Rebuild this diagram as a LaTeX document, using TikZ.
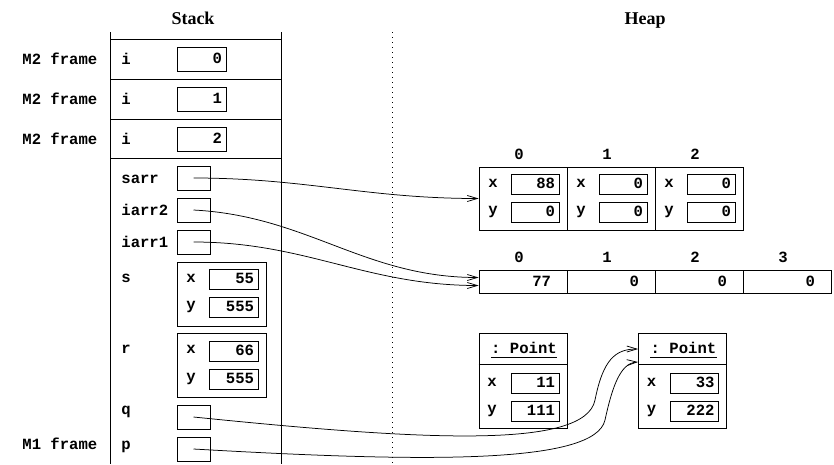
\documentclass[tikz,border=0pt]{standalone}
\usepackage{fontspec}
\setmainfont{Liberation Serif}
\setmonofont{Liberation Mono}
\usetikzlibrary{arrows.meta,positioning,calc}

\begin{document}
\begin{tikzpicture}[
  x=1pt, y=-1pt,
  line width=0.8pt,
  mono/.style={font=\fontsize{15.6}{18}\selectfont\ttfamily\bfseries},
  title/.style={font=\fontsize{18}{20}\selectfont\bfseries, inner sep=0pt, anchor=base},
  lbl/.style={mono, inner sep=0pt, anchor=base west},
  idx/.style={mono, inner sep=0pt, anchor=base},
  val/.style={draw, mono, inner ysep=0pt, inner xsep=4pt, text height=9pt, text depth=0pt,
              align=right, minimum height=20pt, text width=40pt},
  ival/.style={val, minimum height=24pt, text width=41pt},
  ptr/.style={draw, minimum width=33pt, minimum height=24pt, inner sep=0pt},
  obj/.style={draw, minimum width=89pt, minimum height=64pt, inner sep=0pt},
  cell/.style={draw, minimum width=88pt, minimum height=63pt, inner sep=0pt},
  icell/.style={draw, mono, text width=56pt, inner xsep=16pt, inner ysep=0pt, align=right,
                text height=9pt, text depth=0pt, minimum height=23pt},
  pbox/.style={draw, minimum width=88pt, minimum height=95pt, inner sep=0pt},
  arr/.style={-{Straight Barb[length=10pt,width=6pt]}, line width=0.75pt}
]
\useasboundingbox (0,0) rectangle (834,464);

% titles
\node[title] (stacktitle) at (193,24) {Stack};
\node[title] (heaptitle) at (645,24) {Heap};

% stack frame lines
\draw (110,32) -- (110,464);
\draw (281,32) -- (281,464);
\foreach \yy in {39,79,119,158}
  \draw (110,\yy) -- (281,\yy);
\draw[dash pattern=on 1pt off 4pt, line width=0.7pt] (392,32) -- (392,464);

% M2 frames
\foreach \k/\yy in {0/59,1/99,2/139} {
  \node[lbl] (m2lbl\k) at (22,\yy+5) {M2 frame};
  \node[lbl] (ilbl\k) at (121,\yy+5) {i};
  \node[ival] (ival\k) at (201.5,\yy) {\k};
}

% M1 frame
\node[lbl] (m1lbl) at (22,449) {M1 frame};
\node[lbl] (sarrlbl) at (121,183) {sarr};
\node[ptr] (sarr) at (193.5,178) {};
\node[lbl] (iarr2lbl) at (121,215) {iarr2};
\node[ptr] (iarr2) at (193.5,210) {};
\node[lbl] (iarr1lbl) at (121,247) {iarr1};
\node[ptr] (iarr1) at (193.5,242) {};

\node[lbl] (slbl) at (121,282) {s};
\node[obj] (s) at (221.5,294) {};
\node[lbl] (sxlbl) at (186,282) {x};
\node[val, text width=41pt] (sx) at (233.5,279) {55};
\node[lbl] (sylbl) at (186,309) {y};
\node[val, text width=41pt] (sy) at (233.5,307) {555};

\node[lbl] (rlbl) at (121,353) {r};
\node[obj] (r) at (221.5,365) {};
\node[lbl] (rxlbl) at (186,353) {x};
\node[val, text width=41pt] (rx) at (233.5,351) {66};
\node[lbl] (rylbl) at (186,381) {y};
\node[val, text width=41pt] (ry) at (233.5,379) {555};

\node[lbl] (qlbl) at (121,414) {q};
\node[ptr] (q) at (193.5,417) {};
\node[lbl] (plbl) at (121,449) {p};
\node[ptr] (p) at (193.5,449) {};

% heap: array of points
\foreach \k/\xx/\vx in {0/523/88,1/611/0,2/699/0} {
  \node[idx] (saidx\k) at (\xx-4,159) {\k};
  \node[cell] (sa\k) at (\xx,198.5) {};
  \node[lbl] (saxl\k) at (\xx-35,187) {x};
  \node[val] (sax\k) at (\xx+12,184) {\vx};
  \node[lbl] (sayl\k) at (\xx-35,214) {y};
  \node[val] (say\k) at (\xx+12,212) {0};
}

% heap: int array
\foreach \k/\xx/\vv in {0/523/77,1/611/0,2/699/0,3/787/0} {
  \node[idx] (iaidx\k) at (\xx-4,262) {\k};
  \node[icell] (ia\k) at (\xx,281.5) {\vv};
}

% heap: points
\foreach \k/\xx/\vx/\vy in {1/523/11/111,2/682.5/33/222} {
  \node[pbox] (pt\k) at (\xx,380.5) {};
  \draw ($(pt\k.north west)+(0,32)$) -- ($(pt\k.north east)+(0,32)$);
  \node[idx] (pttitle\k) at (\xx+1,353) {: Point};
  \draw ([yshift=-4pt]pttitle\k.base west) -- ([yshift=-4pt]pttitle\k.base east);
  \node[lbl] (ptxl\k) at (\xx-36,386) {x};
  \node[val] (ptx\k) at (\xx+12,383) {\vx};
  \node[lbl] (ptyl\k) at (\xx-36,413) {y};
  \node[val] (pty\k) at (\xx+12,411) {\vy};
}

% references
\coordinate (qbend) at (595,400);
\coordinate (pbend) at (605,420);
\draw[arr] (sarr.center) to[out=0,in=180] (sa0.west);
\draw[arr] (iarr2.center) to[out=-3,in=180] ([yshift=4pt]ia0.west);
\draw[arr] (iarr1.center) to[out=0,in=180] ([yshift=-4pt]ia0.west);
\draw[arr] (q.center) .. controls (420,440) and (585,450) .. (qbend)
  .. controls (603,360) and (615,349) .. ([yshift=31.5pt]pt2.west);
\draw[arr] (p.center) .. controls (420,462) and (595,465) .. (pbend)
  .. controls (612,388) and (620,363) .. ([yshift=18.5pt]pt2.west);

\end{tikzpicture}
\end{document}
